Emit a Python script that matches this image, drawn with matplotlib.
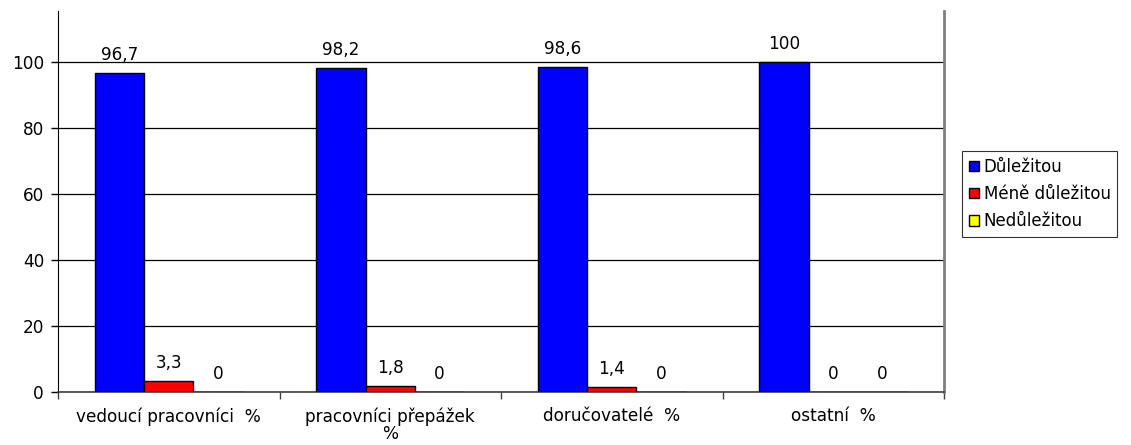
import matplotlib
matplotlib.use("Agg")
import matplotlib.pyplot as plt
import numpy as np

plt.rcParams["font.family"] = ["DejaVu Sans"]

# ---- data ----
categories = ["vedoucí pracovníci  %", "pracovníci přepážek\n%", "doručovatelé  %", "ostatní  %"]
dulezitou = [96.7, 98.2, 98.6, 100]
mene_dulezitou = [3.3, 1.8, 1.4, 0]
nedulezitou = [0, 0, 0, 0]
labels_text = [
    ["96,7", "98,2", "98,6", "100"],
    ["3,3", "1,8", "1,4", "0"],
    ["0", "0", "0", "0"],
]
series_names = ["Důležitou", "Méně důležitou", "Nedůležitou"]
colors = ["#0000FF", "#FF0000", "#FFFF00"]

FS = 12.2

# ---- figure ----
fig = plt.figure(figsize=(11.31, 4.45), dpi=100)
ax = fig.add_axes([58 / 1131, 53 / 445, (944 - 58) / 1131, (392 - 11) / 445])

n = len(categories)
x = np.arange(n)
w = 1 / 4.5
series = [dulezitou, mene_dulezitou, nedulezitou]

handles = []
for i, (vals, col, name) in enumerate(zip(series, colors, series_names)):
    pos = x - w + i * w
    b = ax.bar(pos, vals, width=w, color=col, edgecolor="black", linewidth=1.0,
               label=name, zorder=3)
    handles.append(b)
    for xp, v, t in zip(pos, vals, labels_text[i]):
        ax.annotate(t, (xp, v), xytext=(0, 13), textcoords="offset points",
                    ha="center", va="center", fontsize=FS)

ax.set_xlim(-0.5, n - 0.5)
ax.set_ylim(0, 115.5)
ax.set_yticks([0, 20, 40, 60, 80, 100])
ax.yaxis.grid(True, color="black", linewidth=0.9, zorder=0)
ax.set_axisbelow(True)

# category ticks sit between groups
ax.set_xticks(np.arange(n + 1) - 0.5, minor=False)
ax.set_xticklabels([])
ax.set_xticks(x, minor=True)
ax.set_xticklabels(categories, minor=True, fontsize=FS, linespacing=0.95)
ax.tick_params(axis="x", which="minor", length=0, pad=11)
ax.tick_params(axis="x", which="major", length=5, width=1, color="#404040")
ax.tick_params(axis="y", length=5, width=1, labelsize=FS, pad=5)

ax.spines["top"].set_visible(False)
ax.spines["left"].set_color("black")
ax.spines["bottom"].set_color("#404040")
ax.spines["bottom"].set_linewidth(1.2)
ax.spines["right"].set_color("#808080")
ax.spines["right"].set_linewidth(2)

leg = fig.legend(handles=handles, labels=series_names, loc="center left",
                 bbox_to_anchor=(962 / 1131, 1 - 194 / 445), fontsize=12,
                 frameon=True, fancybox=False, edgecolor="black",
                 handlelength=0.6, handleheight=0.6, handletextpad=0.3,
                 borderpad=0.4, labelspacing=0.55, borderaxespad=0)
leg.get_frame().set_linewidth(0.8)

fig.savefig("out.png", dpi=100)
